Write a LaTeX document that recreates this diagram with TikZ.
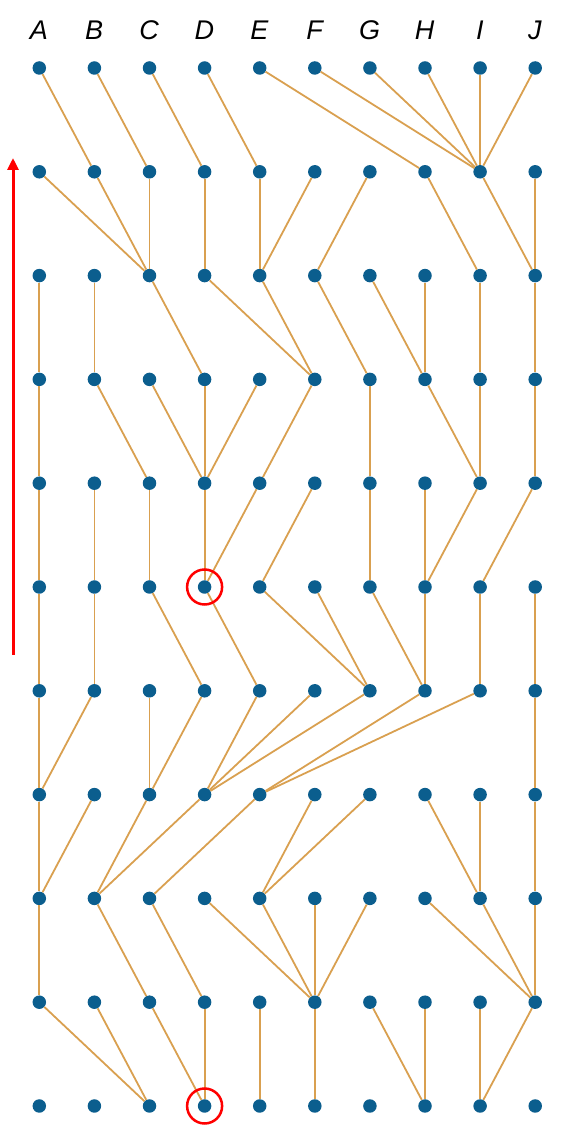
\documentclass[tikz,border=0pt]{standalone}
\usepackage{fontspec}
\setmainfont{Liberation Sans}
\usetikzlibrary{arrows.meta}
\definecolor{dotblue}{HTML}{0B5E8E}
\definecolor{edgeorange}{HTML}{D9A050}
\begin{document}
\begin{tikzpicture}[x=1pt,y=1pt,
  dot/.style={circle,fill=dotblue,draw=none,minimum size=13.5pt,inner sep=0pt},
  edge/.style={draw=edgeorange,line width=1.8pt},
  collabel/.style={font=\fontsize{27}{27}\selectfont\itshape,inner sep=0pt},
  mark circle/.style={draw=red,line width=2.5pt,circle,minimum size=35pt,inner sep=0pt},
  timearrow/.style={draw=red,line width=3pt,-{Triangle[width=11pt,length=12pt]}}]
\useasboundingbox (0,0) rectangle (564,1125);
% column labels
\foreach \L [count=\c] in {A,B,C,D,E,F,G,H,I,J}{
  \node[collabel] (lab\c) at ({39+55.1*(\c-1)},1095) {\L};
}
% dots
\foreach \r in {1,...,11}{
  \foreach \c in {1,...,10}{
    \node[dot] (n\c-\r) at ({39.3+55.1*(\c-1)},{1125-68-103.8*(\r-1)}) {};
  }
}
% edges: for each row r, target column in row r+1 for columns A..J
\foreach \r/\targets in {
  1/{2,3,4,5,8,9,9,9,9,9},
  2/{3,3,3,4,5,5,6,9,10,10},
  3/{1,2,4,6,6,7,8,8,9,10},
  4/{1,3,4,4,4,5,7,9,9,10},
  5/{1,2,3,4,4,5,7,8,8,9},
  6/{1,2,4,5,7,7,8,8,9,10},
  7/{1,1,3,3,4,4,4,5,5,10},
  8/{1,1,2,2,3,5,5,9,9,10},
  9/{1,3,4,6,6,6,6,10,10,10},
  10/{3,3,4,4,5,6,8,8,9,9}}{
  \pgfmathtruncatemacro{\rn}{\r+1}
  \foreach \t [count=\c] in \targets {
    \path[edge] (n\c-\r) -- (n\t-\rn);
  }
}
% red markers
\node[mark circle] (m1) at (n4-6.center) {};
\node[mark circle] (m2) at (n4-11.center) {};
% time arrow
\coordinate (arrS) at (13,470);
\coordinate (arrE) at (13,967);
\draw[timearrow] (arrS) -- (arrE);
\end{tikzpicture}
\end{document}
